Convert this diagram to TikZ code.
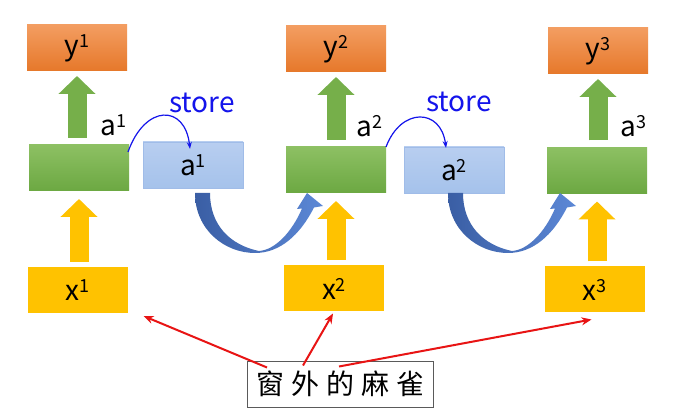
\documentclass[tikz,border=0pt]{standalone}
\usepackage{fontspec}
\setmainfont{Noto Sans CJK SC}
\usetikzlibrary{arrows.meta,calc}
\newcommand\sq[1]{\raisebox{8pt}{\fontsize{18}{18}\selectfont #1}}
\begin{document}
\begin{tikzpicture}[x=1pt,y=1pt,
  every node/.style={font=\fontsize{28}{30}\selectfont},
  cell/.style={minimum width=100pt,minimum height=46pt,inner sep=0pt,outer sep=0pt},
  outbox/.style={cell,top color=outTop,bottom color=outBot},
  hidbox/.style={cell,top color=hidTop,bottom color=hidBot},
  membox/.style={cell,top color=memTop,bottom color=memBot,draw=memEdge,line width=0.8pt},
  inbox/.style={cell,fill=inFill},
  blockup/.style={line width=19pt,-{Triangle[width=36pt,length=18pt]}},
  storeline/.style={draw=storeBlue,line width=1.2pt,-{Stealth[length=7pt,width=5pt]}},
  pointer/.style={draw=ptrRed,line width=2pt,-{Stealth[length=10pt,width=8pt]}},
  carry/.pic={
    \path[left color=carryL,right color=carryR] (0,0)
      .. controls (0,-37) and (30,-60) .. (60,-60)
      .. controls (85,-60) and (105,-42) .. (119,-14.5)
      -- (128,-13) -- (112,0) -- (102,-16) -- (107,-15.5)
      .. controls (97,-39) and (80,-57) .. (64,-58)
      .. controls (35,-52) and (15,-32) .. (15,0) -- cycle;
  }]
\definecolor{outTop}{RGB}{243,157,97}
\definecolor{outBot}{RGB}{230,120,42}
\definecolor{hidTop}{RGB}{141,192,99}
\definecolor{hidBot}{RGB}{108,168,66}
\definecolor{memTop}{RGB}{184,206,240}
\definecolor{memBot}{RGB}{165,194,235}
\definecolor{memEdge}{RGB}{160,188,232}
\definecolor{inFill}{RGB}{255,194,0}
\definecolor{upGreen}{RGB}{118,175,74}
\definecolor{storeBlue}{RGB}{20,20,235}
\definecolor{ptrRed}{RGB}{232,20,20}
\definecolor{carryL}{RGB}{58,94,164}
\definecolor{carryR}{RGB}{92,136,214}
\definecolor{boxGray}{RGB}{90,90,90}
\path[use as bounding box,fill=white] (0,0) rectangle (679,412);

% outputs
\node[outbox] (y1) at (77,364) {y\sq{1}};
\node[outbox] (y2) at (336,363) {y\sq{2}};
\node[outbox] (y3) at (598,361) {y\sq{3}};

% hidden layers
\node[hidbox] (h1) at (79,244) {};
\node[hidbox] (h2) at (336,242) {};
\node[hidbox] (h3) at (597,241.5) {};

% memory
\node[membox] (m1) at (193,247) {a\sq{1}};
\node[membox] (m2) at (454,242) {a\sq{2}};

% inputs
\node[inbox] (x1) at (77.5,122) {x\sq{1}};
\node[inbox] (x2) at (334,123.5) {x\sq{2}};
\node[inbox] (x3) at (594.5,122.5) {x\sq{3}};

% block arrows
\draw[blockup,draw=upGreen,shorten <=7pt,shorten >=5pt] (y1.south |- h1.north) -- (y1.south);
\draw[blockup,draw=upGreen,shorten <=7pt,shorten >=5pt] (y2.south |- h2.north) -- (y2.south);
\draw[blockup,draw=upGreen,shorten <=7pt,shorten >=5pt] (y3.south |- h3.north) -- (y3.south);
\draw[blockup,draw=inFill,shorten <=5pt,shorten >=8pt] (h1.south |- x1.north) -- (h1.south);
\draw[blockup,draw=inFill,shorten <=5pt,shorten >=8pt] (h2.south |- x2.north) -- (h2.south);
\draw[blockup,draw=inFill,shorten <=5pt,shorten >=8pt] (h3.south |- x3.north) -- (h3.south);

\node[anchor=base west] (l1) at (97,276) {a\sq{1}};
\node[anchor=base west] (l2) at (353,275) {a\sq{2}};
\node[anchor=base west] (l3) at (617,275) {a\sq{3}};

% store
\node[anchor=base,text=storeBlue] (s1) at (202,299) {store};
\node[anchor=base,text=storeBlue] (s2) at (459,300) {store};
\draw[storeline] ($(h1.north east)+(-1,-7)$) .. controls +(17,48) and +(-5,45) .. ($(m1.north)+(-3,-7)$);
\draw[storeline] (h2.north east) .. controls +(15,40) and +(-5,40) .. ($(m2.north)+(-8,-1)$);

% carry back
\pic at ($(m1.south)+(2,-5)$) {carry};
\pic at ($(m2.south)+(-6,0)$) {carry};

% label
\node[draw=boxGray,line width=1pt,minimum width=186pt,minimum height=46pt,inner sep=0pt] (sparrow) at (340,28)
  {窗\hspace{7pt}外\hspace{7pt}的\hspace{7pt}麻\hspace{7pt}雀};
\draw[pointer] ($(sparrow.north)+(-73,-7)$) -- ($(x1.south east)+(16,-3)$);
\draw[pointer] ($(sparrow.north)+(-37,-5)$) -- ($(x2.south)+(-1,-2)$);
\draw[pointer] ($(sparrow.north)+(-1,-6)$) -- ($(x3.south)+(-3,-7)$);
\end{tikzpicture}
\end{document}
